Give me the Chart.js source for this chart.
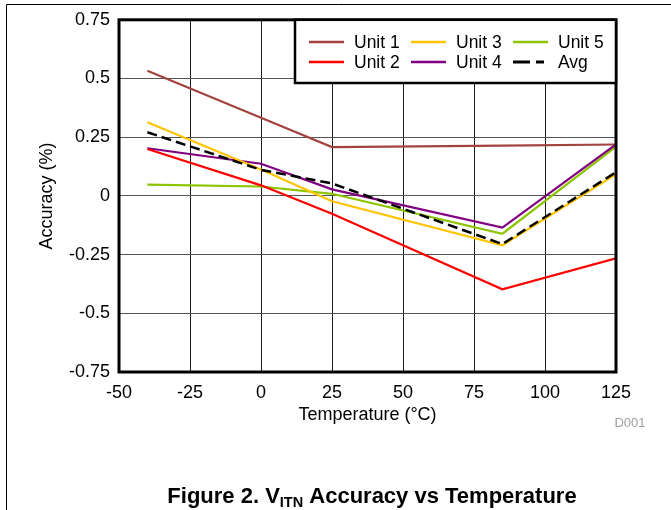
<!DOCTYPE html>
<html>
<head>
<meta charset="utf-8">
<script src="https://cdn.jsdelivr.net/npm/chart.js@4.4.1/dist/chart.umd.min.js"></script>
<style>
  html, body { margin: 0; padding: 0; background: #ffffff; }
  #wrap { position: relative; width: 671px; height: 510px; }
</style>
</head>
<body>
<div id="wrap"><canvas id="c" width="671" height="510"></canvas></div>
<script>
// ---- data ----
const temps = [-40, 0, 25, 85, 125];
const unit1 = [0.533, 0.333, 0.208, 0.214, 0.219];
const unit2 = [0.200, 0.045, -0.076, -0.398, -0.266];
const unit3 = [0.314, 0.112, -0.023, -0.210, 0.092];
const unit4 = [0.203, 0.137, 0.028, -0.135, 0.219];
const unit5 = [0.048, 0.040, 0.009, -0.161, 0.210];
const avg   = [0.271, 0.111, 0.053, -0.205, 0.101];
const seriesNames = ['Unit 1', 'Unit 2', 'Unit 3', 'Unit 4', 'Unit 5', 'Avg'];
const xTickValues = [-50, -25, 0, 25, 50, 75, 100, 125];
const xTickLabels = ['-50', '-25', '0', '25', '50', '75', '100', '125'];
const yTickValues = [-0.75, -0.5, -0.25, 0, 0.25, 0.5, 0.75];
const yTickLabels = ['-0.75', '-0.5', '-0.25', '0', '0.25', '0.5', '0.75'];

const seriesValues = [unit1, unit2, unit3, unit4, unit5, avg];
const seriesColors = ['#A3433F', '#FF0000', '#FFC400', '#800080', '#8DC400', '#000000'];

const FONT = "'Liberation Sans', Arial, Helvetica, sans-serif";

function pts(vals) { return temps.map((t, i) => ({ x: t, y: vals[i] })); }

function labelFor(values, labels, v) {
  for (let i = 0; i < values.length; i++) if (Math.abs(values[i] - v) < 1e-9) return labels[i];
  return '';
}

const datasets = seriesNames.map((name, i) => ({
  label: name,
  data: pts(seriesValues[i]),
  borderColor: seriesColors[i],
  backgroundColor: seriesColors[i],
  borderWidth: name === 'Avg' ? 2.5 : 2.2,
  borderDash: name === 'Avg' ? [10, 5] : [],
  pointRadius: 0,
  tension: 0,
  fill: false,
  order: name === 'Avg' ? 0 : 1
}));

const decorPlugin = {
  id: 'decor',
  afterDraw(chart) {
    const ctx = chart.ctx;
    const a = chart.chartArea;
    ctx.save();
    // outer figure frame (top & left)
    ctx.strokeStyle = '#000';
    ctx.lineWidth = 1;
    ctx.beginPath();
    ctx.moveTo(6.5, 510);
    ctx.lineTo(6.5, 4.5);
    ctx.lineTo(671, 4.5);
    ctx.stroke();

    // plot border
    ctx.lineWidth = 3;
    ctx.strokeRect(a.left, a.top, a.right - a.left, a.bottom - a.top);

    // legend box
    const bx = 295, by = a.top, bw = a.right - 295, bh = 83 - a.top;
    ctx.fillStyle = '#fff';
    ctx.fillRect(bx, by, bw, bh);
    ctx.lineWidth = 2.5;
    ctx.strokeStyle = '#000';
    ctx.strokeRect(bx, by, bw, bh);

    const colX = [309, 411, 513];
    const rowY = [42, 62];
    ctx.font = '17.5px ' + FONT;
    ctx.textBaseline = 'middle';
    ctx.textAlign = 'left';
    chart.data.datasets.forEach((ds, i) => {
      const col = Math.floor(i / 2), row = i % 2;
      const x = colX[col], y = rowY[row];
      ctx.beginPath();
      ctx.strokeStyle = ds.borderColor;
      ctx.lineWidth = ds.borderWidth + 0.5;
      ctx.setLineDash(ds.borderDash.length ? [17, 6, 8, 6] : []);
      ctx.moveTo(x, y);
      ctx.lineTo(x + 35, y);
      ctx.stroke();
      ctx.setLineDash([]);
      ctx.fillStyle = '#000';
      ctx.fillText(ds.label, x + 45, y + 1);
    });

    // D001
    ctx.font = '13px ' + FONT;
    ctx.fillStyle = '#a0a0a0';
    ctx.textAlign = 'center';
    ctx.fillText('D001', 630, 423);

    // caption
    const big = 'bold 22px ' + FONT, small = 'bold 14.5px ' + FONT;
    const p1 = 'Figure 2. V', sub = 'ITN', p2 = ' Accuracy vs Temperature';
    ctx.font = big; const w1 = ctx.measureText(p1).width, w3 = ctx.measureText(p2).width;
    ctx.font = small; const w2 = ctx.measureText(sub).width;
    let cx = 372 - (w1 + w2 + w3) / 2;
    const cy = 495;
    ctx.fillStyle = '#000';
    ctx.textAlign = 'left';
    ctx.textBaseline = 'alphabetic';
    ctx.font = big; ctx.fillText(p1, cx, cy + 8); cx += w1;
    ctx.font = small; ctx.fillText(sub, cx, cy + 12); cx += w2;
    ctx.font = big; ctx.fillText(p2, cx, cy + 8);
    ctx.restore();
  }
};

new Chart(document.getElementById('c'), {
  type: 'line',
  data: { datasets },
  options: {
    responsive: false,
    animation: false,
    devicePixelRatio: 1,
    layout: { padding: { left: 0, right: 55, top: 19, bottom: 78 } },
    plugins: { legend: { display: false }, tooltip: { enabled: false } },
    scales: {
      x: {
        type: 'linear',
        min: -50, max: 125,
        afterFit: (s) => { s.height = 60; },
        afterBuildTicks: (s) => { s.ticks = xTickValues.map(v => ({ value: v })); },
        ticks: {
          padding: 10,
          color: '#000',
          font: { family: FONT, size: 18 },
          maxRotation: 0,
          callback: (v) => labelFor(xTickValues, xTickLabels, v)
        },
        grid: { color: '#1a1a1a', lineWidth: 1, drawTicks: false },
        border: { display: false },
        title: {
          display: true,
          text: 'Temperature (°C)',
          color: '#000',
          font: { family: FONT, size: 18 },
          padding: { top: 0, bottom: 6 }
        }
      },
      y: {
        type: 'linear',
        min: -0.75, max: 0.75,
        afterFit: (s) => { s.width = 119; },
        afterBuildTicks: (s) => { s.ticks = yTickValues.map(v => ({ value: v })); },
        ticks: {
          padding: 9,
          color: '#000',
          font: { family: FONT, size: 18 },
          callback: (v) => labelFor(yTickValues, yTickLabels, v)
        },
        grid: { color: '#555555', lineWidth: 1, drawTicks: false },
        border: { display: false },
        title: {
          display: true,
          text: 'Accuracy (%)',
          color: '#000',
          font: { family: FONT, size: 18 },
          padding: { top: 36, bottom: 0 }
        }
      }
    }
  },
  plugins: [decorPlugin]
});
</script>
</body>
</html>
